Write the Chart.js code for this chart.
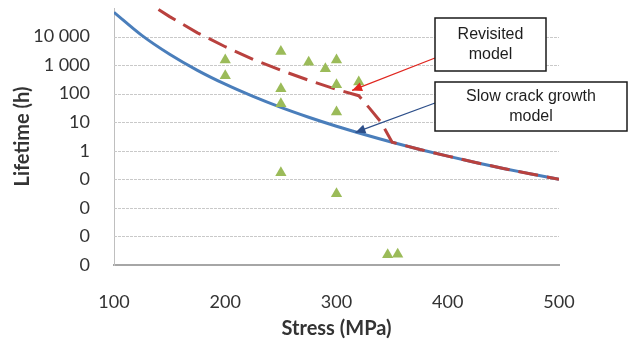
<!DOCTYPE html>
<html>
<head>
<meta charset="utf-8">
<script src="https://cdn.jsdelivr.net/npm/chart.js@4.4.1/dist/chart.umd.min.js"></script>
<style>
  html, body { margin: 0; padding: 0; background: #fff; }
  #wrap { width: 629px; height: 339px; }
</style>
</head>
<body>
<div id="wrap"><canvas id="chart"></canvas></div>
<script>
// slow crack growth model (blue)
const scgStress = [100, 125, 150, 175, 200, 225, 250, 275, 300, 325, 350, 375, 400, 425, 450, 475, 500];
const scgLife = [70800, 11000, 2400, 655, 214, 80, 33, 14.9, 7.2, 3.7, 1.98, 1.11, 0.65, 0.39, 0.24, 0.154, 0.1];

// revisited model (red dashed)
const revStress = [140, 150, 175, 200, 225, 250, 275, 300, 320, 330, 340, 350, 375, 400, 425, 450, 475, 500];
const revLife = [89000, 50000, 13500, 4400, 1600, 660, 295, 140, 85, 30, 10, 2.0, 1.11, 0.65, 0.39, 0.24, 0.154, 0.1];

// test results (triangles)
const testStress = [200, 200, 250, 250, 250, 250, 275, 290, 300, 300, 320, 300, 300, 346, 355];
const testLife = [1500, 420, 3000, 150, 44, 0.17, 1250, 750, 1500, 205, 255, 23, 0.031, 0.00023, 0.00024];

// y axis ticks (log) and their labels as printed
const yTickValues = [0.0001, 0.001, 0.01, 0.1, 1, 10, 100, 1000, 10000, 100000];
const yTickLabels = ['0', '0', '0', '0', '1', '10', '100', '1 000', '10 000', ''];

// callouts: text lines, arrow target [stress, lifetime]
const callouts = [
  { lines: ['Revisited', 'model'], target: [314, 130], color: '#e0261f' },
  { lines: ['Slow crack growth', 'model'], target: [317, 4.4], color: '#2d4f8a' }
];
const calloutBoxes = [
  { x: 435, y: 18, w: 111, h: 53, ay: 40 },
  { x: 435, y: 82, w: 192, h: 49, ay: 21 }
];

const toPoints = (xs, ys) => xs.map((x, i) => ({ x, y: ys[i] }));

// horizontal gridlines at the decade ticks
const gridPlugin = {
  id: 'decadeGrid',
  beforeDatasetsDraw(chart) {
    const { ctx, chartArea, scales } = chart;
    ctx.save();
    ctx.strokeStyle = '#c9c9c9';
    ctx.lineWidth = 1;
    ctx.setLineDash([3, 1]);
    yTickValues.slice(1, -1).forEach(v => {
      const y = Math.round(scales.y.getPixelForValue(v)) + 0.5;
      ctx.beginPath();
      ctx.moveTo(chartArea.left, y);
      ctx.lineTo(chartArea.right, y);
      ctx.stroke();
    });
    ctx.restore();
  }
};

const calloutPlugin = {
  id: 'callouts',
  afterDatasetsDraw(chart) {
    const { ctx, scales } = chart;
    ctx.save();
    callouts.forEach((c, i) => {
      const b = calloutBoxes[i];
      const tx = scales.x.getPixelForValue(c.target[0]);
      const ty = scales.y.getPixelForValue(c.target[1]);
      const sx = b.x;
      const sy = b.y + b.ay;
      // arrow line
      ctx.strokeStyle = c.color;
      ctx.fillStyle = c.color;
      ctx.lineWidth = 1.3;
      ctx.beginPath();
      ctx.moveTo(sx, sy);
      ctx.lineTo(tx, ty);
      ctx.stroke();
      // arrow head
      const ang = Math.atan2(ty - sy, tx - sx);
      const len = 10, half = 4.5;
      ctx.beginPath();
      ctx.moveTo(tx, ty);
      ctx.lineTo(tx - len * Math.cos(ang) + half * Math.sin(ang), ty - len * Math.sin(ang) - half * Math.cos(ang));
      ctx.lineTo(tx - len * Math.cos(ang) - half * Math.sin(ang), ty - len * Math.sin(ang) + half * Math.cos(ang));
      ctx.closePath();
      ctx.fill();
      // box
      ctx.fillStyle = '#fff';
      ctx.fillRect(b.x, b.y, b.w, b.h);
      ctx.strokeStyle = '#1a1a1a';
      ctx.lineWidth = 1.5;
      ctx.strokeRect(b.x, b.y, b.w, b.h);
      // text
      ctx.fillStyle = '#1e1e1e';
      ctx.font = '16px "Liberation Sans", Arial, sans-serif';
      ctx.textAlign = 'center';
      ctx.textBaseline = 'middle';
      const cy = b.y + b.h / 2;
      c.lines.forEach((t, k) => {
        ctx.fillText(t, b.x + b.w / 2, cy + (k - (c.lines.length - 1) / 2) * 20);
      });
    });
    ctx.restore();
  }
};

new Chart(document.getElementById('chart'), {
  type: 'scatter',
  data: {
    datasets: [
      {
        label: 'Tests',
        data: toPoints(testStress, testLife),
        pointStyle: 'triangle',
        pointRadius: 6.5,
        pointHoverRadius: 6.5,
        backgroundColor: '#9bbb59',
        borderColor: '#9bbb59',
        borderWidth: 0,
        showLine: false,
        order: 0
      },
      {
        label: 'Revisited model',
        data: toPoints(revStress, revLife),
        showLine: true,
        borderColor: '#b9413e',
        borderWidth: 3,
        borderDash: [20, 9],
        pointRadius: 0,
        tension: 0,
        order: 1
      },
      {
        label: 'Slow crack growth model',
        data: toPoints(scgStress, scgLife),
        showLine: true,
        borderColor: '#4a7ebb',
        borderWidth: 3,
        pointRadius: 0,
        cubicInterpolationMode: 'monotone',
        order: 2
      }
    ]
  },
  options: {
    responsive: true,
    maintainAspectRatio: false,
    animation: false,
    layout: { padding: { top: 8, right: 70, left: 0, bottom: 0 } },
    plugins: {
      legend: { display: false },
      tooltip: { enabled: false }
    },
    scales: {
      x: {
        type: 'linear',
        min: 100,
        max: 500,
        grid: { display: false, drawTicks: false },
        border: { color: '#a6a6a6', width: 2 },
        ticks: {
          stepSize: 100,
          padding: 26,
          color: '#333',
          font: { family: 'Lato', size: 18 }
        },
        title: {
          display: true,
          text: 'Stress (MPa)',
          color: '#333',
          font: { family: 'Lato', size: 20, weight: 'bold', lineHeight: 1 },
          padding: { top: 0, bottom: 0 }
        },
        afterFit: (scale) => { scale.height = 74; }
      },
      y: {
        type: 'logarithmic',
        min: 0.0001,
        max: 100000,
        afterBuildTicks: (scale) => {
          scale.ticks = yTickValues.map(v => ({ value: v }));
        },
        grid: { display: false, drawTicks: false },
        border: { color: '#bfbfbf', width: 1 },
        ticks: {
          padding: 24,
          color: '#333',
          font: { family: 'Lato', size: 18 },
          callback: (value, index) => yTickLabels[index]
        },
        title: {
          display: true,
          text: 'Lifetime (h)',
          color: '#333',
          font: { family: 'Lato', size: 20, weight: 'bold', lineHeight: 1.2 },
          padding: { top: 11, bottom: 0 }
        },
        afterFit: (scale) => {
          scale.width = 114;
          scale.paddingTop = 0;
          scale.paddingBottom = 0;
        }
      }
    }
  },
  plugins: [gridPlugin, calloutPlugin]
});
</script>
</body>
</html>
